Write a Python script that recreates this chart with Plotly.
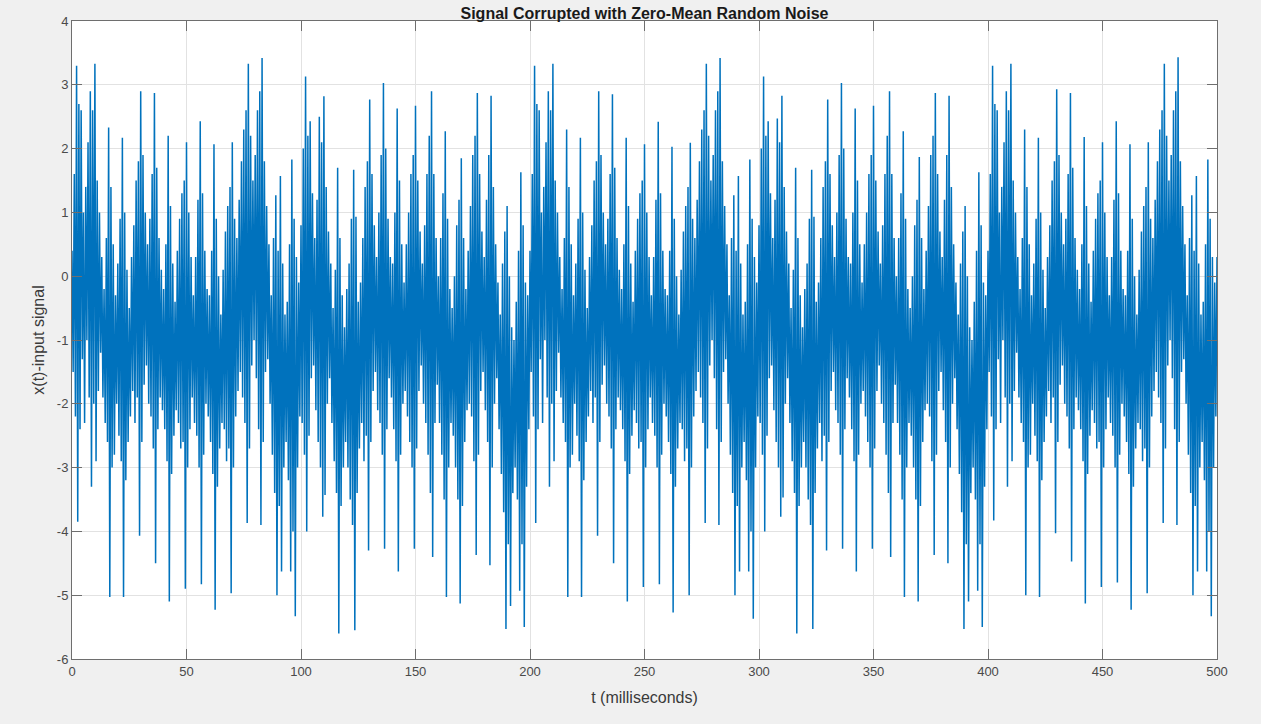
import plotly.graph_objects as go

# Signal. The trace swings between an upper sample
# (on each whole millisecond) and a lower sample (half a millisecond later).

upper_000_099 = [
    0.4, 1.6, 3.3, 2.7, 2.6, 1.0, 1.4, 2.1, 2.9, 2.6,
    3.33, 1.5, 1.0, 0.3, -0.2, 0.6, 2.33, 1.4, 0.5, -0.3,
    0.2, 0.9, 2.17, 1.0, 0.1, -0.5, 0.3, 0.8, 1.5, 1.8,
    2.9, 1.9, 1.0, 0.5, 0.9, 1.6, 2.87, 1.7, 0.6, 0.1,
    -0.2, 0.5, 2.2, 1.1, 0.2, -0.4, 0.4, 0.9, 1.3, 1.5,
    2.1, 1.0, 0.3, -0.3, 0.3, 1.2, 2.43, 1.3, 0.4, -0.2,
    -0.3, 0.4, 2.07, 0.9, 0.0, -0.6, 0.1, 0.7, 1.1, 1.4,
    2.1, 0.9, 0.6, 1.2, 1.8, 2.3, 2.6, 3.33, 2.2, 1.5,
    1.9, 2.6, 2.9, 3.42, 1.8, 1.1, 0.5, -0.3, 0.6, 1.27,
    0.4, 1.57, 0.2, -0.6, -0.4, 0.5, 1.83, 0.9, 0.3, -0.1,
]
lower_000_099 = [
    -1.5, -2.2, -3.85, -2.4, -1.3, -2.3, -1.0, -1.9, -3.3, -2.0,
    -2.9, -1.8, -1.2, -1.9, -2.3, -2.6, -5.03, -3.0, -2.8, -2.0,
    -2.5, -2.9, -5.03, -3.2, -2.6, -2.2, -1.8, -2.3, -1.9, -4.07,
    -2.6, -1.7, -1.4, -2.0, -2.2, -2.7, -4.5, -2.4, -1.9, -2.1,
    -2.4, -2.9, -5.1, -3.1, -2.5, -2.1, -2.3, -2.7, -2.6, -4.9,
    -3.0, -2.4, -1.9, -2.3, -2.5, -3.0, -4.83, -2.8, -2.0, -2.2,
    -2.6, -3.1, -5.23, -3.3, -2.7, -2.3, -2.4, -2.9, -2.7, -4.97,
    -3.0, -2.2, -1.8, -1.5, -1.9, -2.3, -3.87, -2.7, -1.4, -1.0,
    -1.6, -2.4, -3.9, -2.6, -1.5, -1.3, -2.0, -2.8, -3.4, -5.0,
    -3.6, -4.63, -3.0, -2.6, -3.2, -4.63, -4.0, -5.33, -3.0, -2.2,
]
upper_100_199 = [
    0.8, 2.0, 3.13, 2.2, 2.43, 1.3, 0.6, 1.2, 2.5, 2.1,
    2.82, 1.4, 0.7, 0.2, -0.5, 0.1, 1.7, 0.6, -0.3, -0.8,
    -0.2, 0.2, 0.9, 1.67, 0.93, -0.4, -0.1, 0.6, 1.4, 1.8,
    2.77, 1.6, 0.8, 0.3, 1.0, 1.9, 3.03, 2.0, 0.9, 0.3,
    0.2, 1.0, 2.63, 1.5, 0.5, -0.1, 0.5, 1.0, 1.6, 1.9,
    2.67, 1.5, 0.7, 0.2, 0.8, 1.6, 2.2, 2.9, 1.6, 0.6,
    0.0, 0.6, 1.3, 2.27, 0.9, -0.2, -0.5, 0.0, 0.8, 1.2,
    1.85, 0.6, -0.2, 0.4, 1.1, 1.9, 2.2, 2.87, 1.6, 0.7,
    0.3, 1.2, 1.9, 2.83, 1.4, 0.5, -0.1, -0.6, 0.2, 0.7,
    1.1, 0.0, -0.8, -1.0, -0.4, 0.4, 1.63, 0.8, -0.1, -0.3,
]
lower_100_199 = [
    -2.3, -2.8, -4.0, -2.5, -1.6, -1.4, -2.1, -2.6, -3.0, -3.77,
    -3.43, -2.0, -1.6, -2.3, -2.9, -3.4, -5.6, -3.6, -3.0, -2.6,
    -3.0, -3.5, -3.9, -5.55, -3.4, -2.7, -2.3, -2.9, -2.5, -4.3,
    -2.6, -1.8, -1.5, -2.1, -2.3, -2.8, -4.27, -2.4, -1.6, -1.9,
    -2.4, -2.9, -4.63, -2.8, -2.0, -1.8, -2.2, -2.6, -3.0, -4.27,
    -2.7, -1.8, -1.4, -2.0, -2.3, -2.8, -3.4, -4.4, -2.3, -1.7,
    -2.3, -2.8, -3.5, -5.03, -3.0, -2.3, -2.5, -3.0, -3.5, -5.13,
    -3.6, -2.6, -2.1, -2.0, -2.2, -2.9, -4.37, -2.8, -1.8, -1.5,
    -2.1, -2.6, -4.53, -3.0, -2.0, -1.6, -2.4, -3.1, -3.7, -5.53,
    -4.2, -5.17, -3.4, -3.0, -3.5, -4.93, -4.2, -5.5, -3.3, -2.4,
]
upper_200_299 = [
    0.4, 1.6, 3.3, 2.7, 2.6, 1.0, 1.4, 2.1, 2.9, 2.6,
    3.33, 1.5, 1.0, 0.3, -0.2, 0.6, 2.3, 1.4, 0.5, -0.3,
    0.2, 0.9, 2.17, 1.0, 0.1, -0.5, 0.3, 0.8, 1.5, 1.8,
    2.9, 1.9, 1.0, 0.5, 0.9, 1.6, 2.85, 1.7, 0.6, 0.1,
    -0.2, 0.5, 2.17, 1.1, 0.2, -0.4, 0.4, 0.9, 1.3, 1.5,
    2.07, 1.0, 0.3, -0.3, 0.3, 1.2, 2.42, 1.3, 0.4, -0.2,
    -0.3, 0.4, 2.03, 0.9, 0.0, -0.6, 0.1, 0.7, 1.1, 1.4,
    2.09, 0.9, 0.6, 1.2, 1.8, 2.3, 2.6, 3.33, 2.2, 1.5,
    1.9, 2.6, 2.9, 3.42, 1.8, 1.1, 0.5, -0.3, 0.6, 1.27,
    0.4, 1.57, 0.2, -0.6, -0.4, 0.5, 1.83, 0.9, 0.3, -0.1,
]
lower_200_299 = [
    -1.5, -2.2, -3.87, -2.4, -1.3, -2.3, -1.0, -1.9, -3.3, -2.0,
    -2.9, -1.8, -1.2, -1.9, -2.3, -2.6, -5.03, -3.0, -2.8, -2.0,
    -2.5, -2.9, -5.03, -3.2, -2.6, -2.2, -1.8, -2.3, -1.9, -4.07,
    -2.6, -1.7, -1.4, -2.0, -2.2, -2.7, -4.5, -2.4, -1.9, -2.1,
    -2.4, -2.9, -5.1, -3.1, -2.5, -2.1, -2.3, -2.7, -2.6, -4.87,
    -3.0, -2.4, -1.9, -2.3, -2.5, -3.0, -4.83, -2.8, -2.0, -2.2,
    -2.6, -3.1, -5.27, -3.3, -2.7, -2.3, -2.4, -2.9, -2.7, -5.0,
    -3.0, -2.2, -1.8, -1.5, -1.9, -2.3, -3.87, -2.7, -1.4, -1.0,
    -1.6, -2.4, -3.9, -2.6, -1.5, -1.3, -2.0, -2.8, -3.4, -5.0,
    -3.6, -4.63, -3.0, -2.6, -3.2, -4.63, -4.0, -5.37, -3.0, -2.2,
]
upper_300_399 = [
    0.8, 2.0, 3.13, 2.2, 2.43, 1.3, 0.6, 1.2, 2.47, 2.1,
    2.83, 1.4, 0.7, 0.2, -0.5, 0.1, 1.7, 0.6, -0.3, -0.8,
    -0.2, 0.2, 0.9, 1.67, 0.93, -0.4, -0.1, 0.6, 1.4, 1.8,
    2.77, 1.6, 0.8, 0.3, 1.0, 1.9, 3.03, 2.0, 0.9, 0.3,
    0.2, 1.0, 2.63, 1.5, 0.5, -0.1, 0.5, 1.0, 1.6, 1.9,
    2.67, 1.5, 0.7, 0.2, 0.8, 1.6, 2.2, 2.9, 1.6, 0.6,
    0.0, 0.6, 1.3, 2.27, 0.9, -0.2, -0.5, 0.0, 0.8, 1.2,
    1.87, 0.6, -0.2, 0.4, 1.1, 1.9, 2.2, 2.87, 1.6, 0.7,
    0.3, 1.2, 1.9, 2.83, 1.4, 0.5, -0.1, -0.6, 0.2, 0.7,
    1.1, 0.0, -0.8, -1.0, -0.4, 0.4, 1.63, 0.8, -0.1, -0.3,
]
lower_300_399 = [
    -2.3, -2.8, -4.0, -2.5, -1.6, -1.4, -2.1, -2.6, -3.0, -3.77,
    -3.47, -2.0, -1.6, -2.3, -2.9, -3.4, -5.6, -3.6, -3.0, -2.6,
    -3.0, -3.5, -3.9, -5.53, -3.4, -2.7, -2.3, -2.9, -2.5, -4.3,
    -2.6, -1.8, -1.5, -2.1, -2.3, -2.8, -4.27, -2.4, -1.6, -1.9,
    -2.4, -2.9, -4.63, -2.8, -2.0, -1.8, -2.2, -2.6, -3.0, -4.27,
    -2.7, -1.8, -1.4, -2.0, -2.3, -2.8, -3.4, -4.4, -2.3, -1.7,
    -2.3, -2.8, -3.5, -5.03, -3.0, -2.3, -2.5, -3.0, -3.5, -5.1,
    -3.6, -2.6, -2.1, -2.0, -2.2, -2.9, -4.37, -2.8, -1.8, -1.5,
    -2.1, -2.6, -4.5, -3.0, -2.0, -1.6, -2.4, -3.1, -3.7, -5.53,
    -4.2, -5.1, -3.4, -3.0, -3.5, -4.93, -4.2, -5.5, -3.3, -2.4,
]
upper_400_500 = [
    0.4, 1.6, 3.3, 2.7, 2.6, 1.0, 1.4, 2.1, 2.9, 2.6,
    3.33, 1.5, 1.0, 0.3, -0.2, 0.6, 2.3, 1.4, 0.5, -0.3,
    0.2, 0.9, 2.17, 1.0, 0.1, -0.5, 0.3, 0.8, 1.5, 1.8,
    2.93, 1.9, 1.0, 0.5, 0.9, 1.6, 2.87, 1.7, 0.6, 0.1,
    -0.2, 0.5, 2.18, 1.1, 0.2, -0.4, 0.4, 0.9, 1.3, 1.5,
    2.1, 1.0, 0.3, -0.3, 0.3, 1.2, 2.43, 1.3, 0.4, -0.2,
    -0.3, 0.4, 2.07, 0.9, 0.0, -0.6, 0.1, 0.7, 1.1, 1.4,
    2.1, 0.9, 0.6, 1.2, 1.8, 2.3, 2.6, 3.33, 2.2, 1.5,
    1.9, 2.6, 2.9, 3.43, 1.8, 1.1, 0.5, -0.3, 0.6, 1.27,
    0.4, 1.57, 0.2, -0.6, -0.4, 0.5, 1.83, 0.9, 0.3, -0.1,
    0.3,
]
lower_400_499 = [
    -1.5, -2.2, -3.83, -2.4, -1.3, -2.3, -1.0, -1.9, -3.3, -2.0,
    -2.9, -1.8, -1.2, -1.9, -2.3, -2.6, -5.0, -3.0, -2.8, -2.0,
    -2.5, -2.9, -5.03, -3.2, -2.6, -2.2, -1.8, -2.3, -1.9, -4.03,
    -2.6, -1.7, -1.4, -2.0, -2.2, -2.7, -4.47, -2.4, -1.9, -2.1,
    -2.4, -2.9, -5.13, -3.1, -2.5, -2.1, -2.3, -2.7, -2.6, -4.87,
    -3.0, -2.4, -1.9, -2.3, -2.5, -3.0, -4.8, -2.8, -2.0, -2.2,
    -2.6, -3.1, -5.23, -3.3, -2.7, -2.3, -2.4, -2.9, -2.7, -4.97,
    -3.0, -2.2, -1.8, -1.5, -1.9, -2.3, -3.87, -2.7, -1.4, -1.0,
    -1.6, -2.4, -3.9, -2.6, -1.5, -1.3, -2.0, -2.8, -3.4, -5.0,
    -3.6, -4.63, -3.0, -2.6, -3.2, -4.63, -4.0, -5.33, -3.0, -2.2,
]

upper_vals = upper_000_099 + upper_100_199 + upper_200_299 + upper_300_399 + upper_400_500
lower_vals = lower_000_099 + lower_100_199 + lower_200_299 + lower_300_399 + lower_400_499
t_upper = list(range(0, len(upper_vals)))            # 0, 1, ..., 500 ms
t_lower = [t + 0.5 for t in range(len(lower_vals))]  # 0.5, 1.5, ..., 499.5 ms

samples = sorted(list(zip(t_upper, upper_vals)) + list(zip(t_lower, lower_vals)))
t_ms = [s[0] for s in samples]
x_signal = [s[1] for s in samples]

x_ticks = [0, 50, 100, 150, 200, 250, 300, 350, 400, 450, 500]
y_ticks = [-6, -5, -4, -3, -2, -1, 0, 1, 2, 3, 4]

FONT = "Liberation Sans, Arial, sans-serif"
AX_LINE = "#6e6e6e"
TICK_FONT = dict(family=FONT, size=13, color="#4a4a4a")

fig = go.Figure()
fig.add_trace(go.Scatter(
    x=t_ms, y=x_signal, mode="lines",
    line=dict(color="#0072BD", width=1.5),
    showlegend=False, hoverinfo="skip",
))

axis_common = dict(
    showgrid=True, gridcolor="#e2e2e2", gridwidth=1,
    showline=True, linecolor=AX_LINE, linewidth=1, mirror="ticks",
    ticks="inside", ticklen=10, tickcolor=AX_LINE, tickwidth=1,
    zeroline=False, tickfont=TICK_FONT, automargin=False,
)

fig.update_layout(
    width=1261, height=724,
    paper_bgcolor="#f0f0f0", plot_bgcolor="white",
    margin=dict(l=72, r=44, t=21, b=65),
    title=dict(
        text="<b>Signal Corrupted with Zero-Mean Random Noise</b>",
        x=0.5, xref="paper", xanchor="center",
        y=1 - 13 / 724, yref="container", yanchor="middle",
        font=dict(family=FONT, size=16, color="#1a1a1a"),
    ),
    xaxis=dict(
        range=[0, 500], tickmode="array", tickvals=x_ticks,
        ticktext=[str(v) for v in x_ticks],
        title=dict(text="t (milliseconds)", standoff=14,
                   font=dict(family=FONT, size=16, color="#3a3a3a")),
        **axis_common,
    ),
    yaxis=dict(
        range=[-6, 4], tickmode="array", tickvals=y_ticks,
        ticktext=[str(v) for v in y_ticks],
        title=dict(text="x(t)-input signal", standoff=8,
                   font=dict(family=FONT, size=16, color="#3a3a3a")),
        **axis_common,
    ),
)

fig.write_html("out.html")
